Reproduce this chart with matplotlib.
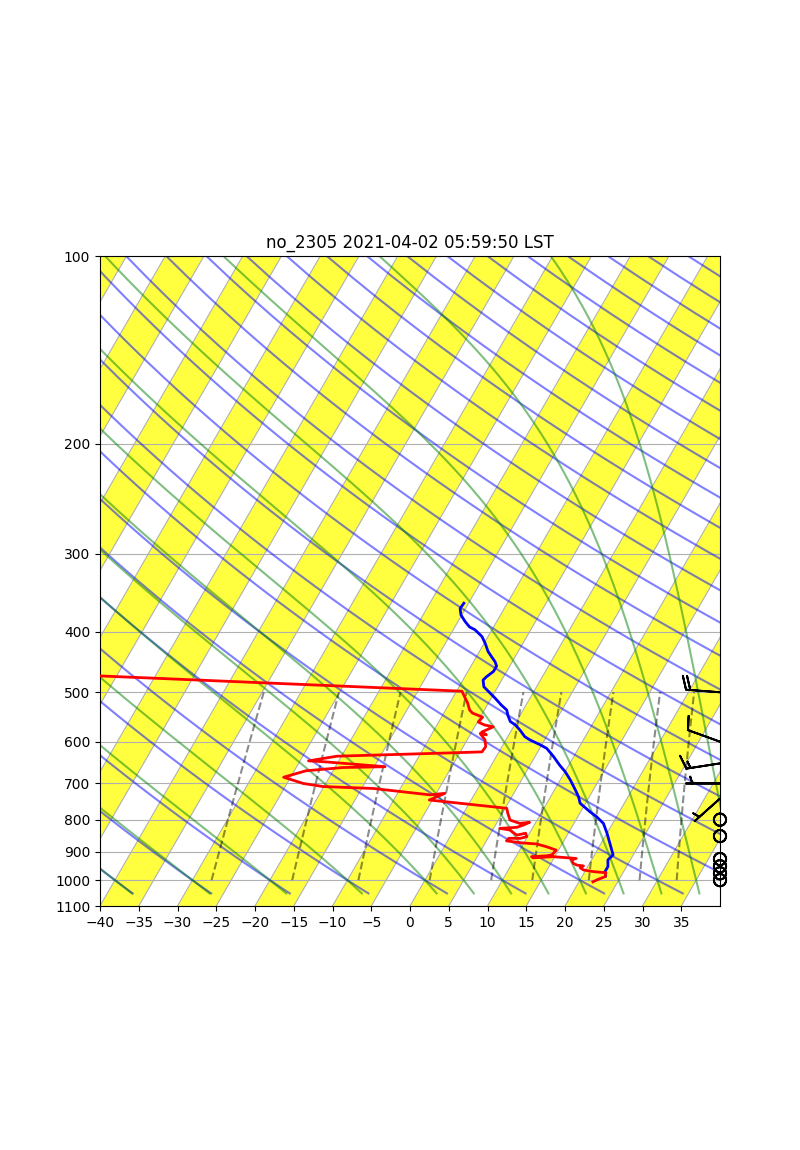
import numpy as np
import matplotlib
matplotlib.use("Agg")
import matplotlib.pyplot as plt
from matplotlib import transforms
from matplotlib.ticker import MultipleLocator, ScalarFormatter, NullLocator

# blue trace (hPa, degC), bottom to top
blue_p = [985, 969, 951, 928, 911, 884, 841, 811, 791, 777, 753, 735, 717, 691, 670,
          654, 634, 615, 607, 596, 589, 575, 564, 557, 544, 534, 524, 511, 499, 490,
          478, 472, 463, 454, 447, 438, 430, 417, 407, 397, 393, 385, 376, 367, 360]
blue_t = [23.0, 22.6, 22.6, 22.1, 22.4, 21.5, 20.0, 18.8, 17.4, 16.2, 14.3, 13.6, 12.7, 11.3, 10.0,
          8.8, 7.4, 5.9, 4.8, 3.1, 2.2, 1.1, 0.1, -0.8, -1.6, -2.1, -3.2, -4.5, -5.8, -6.8,
          -7.4, -7.2, -6.7, -6.7, -7.2, -8.1, -8.9, -9.9, -10.8, -12.2, -13.1, -14.1, -15.1, -15.7, -15.6]

# red trace (hPa, degC), bottom to top
red_p = [1006, 997, 987, 973, 969, 963, 955, 949, 946, 940, 928, 923, 917, 921, 917,
         914, 911, 895, 884, 875, 871, 865, 857, 857, 852, 841, 847, 831, 826, 823,
         816, 808, 811, 801, 781, 767, 744, 726, 730, 713, 708, 700, 684, 668, 660,
         658, 646, 644, 633, 626, 623, 611, 596, 582, 585, 579, 568, 564, 558, 548,
         540, 534, 520, 509, 498, 455]
red_t = [21.8, 22.3, 23.0, 22.8, 21.1, 19.7, 19.1, 19.4, 18.5, 17.9, 17.4, 17.9, 14.8, 12.3, 12.0,
         13.9, 14.5, 14.7, 13.2, 11.7, 9.5, 7.6, 7.7, 9.2, 9.9, 9.5, 8.5, 7.2, 5.8, 7.9,
         8.6, 9.2, 8.0, 6.5, 5.7, 5.2, -5.4, -3.9, -5.7, -13.5, -20.1, -22.9, -25.9, -23.5, -19.0,
         -13.6, -21.9, -23.9, -20.6, -7.5, -2.2, -2.1, -2.7, -3.8, -2.9, -3.7, -2.6, -3.9, -4.9, -4.7,
         -6.3, -6.9, -7.7, -8.5, -9.3, -86.0]

# wind
wind_p = [500, 600, 650, 700, 740, 800, 850, 925, 950, 975, 1000]
wind_u = [19.9, 9.4, 14.8, 5.0, 3.7, 0, 0, 0, 0, 0, 0]
wind_v = [-1.5, -3.4, 2.3, 0.0, 3.3, 0, 0, 0, 0, 0, 0]

# background line sets
dry_t0 = np.arange(-40, 241, 10)
moist_t0 = [-40, -30, -20, -10, 0, 5, 10, 15, 20, 25, 30, 35, 40]
mix_w = [0.0004, 0.001, 0.002, 0.004, 0.007, 0.01, 0.016, 0.024, 0.032]
band_starts = np.arange(-120, 40, 10)

Rd, Cp, Lv, eps = 287.04749, 1004.6662, 2.50084e6, 0.6219569


def sat_vp(t_k):
    return 6.112 * np.exp(17.67 * (t_k - 273.15) / (t_k - 29.65))


def moist_dtdp(p, t):
    es = sat_vp(t)
    rs = eps * es / (p - es)
    num = (Rd * t + Lv * rs) / p
    den = Cp + (Lv * Lv * rs * eps) / (Rd * t * t)
    return num / den


def integrate_moist(t0_k, ps):
    t = np.array(t0_k, dtype=float)
    out = [t.copy()]
    for p0, p1 in zip(ps[:-1], ps[1:]):
        h = p1 - p0
        k1 = moist_dtdp(p0, t)
        k2 = moist_dtdp(p0 + h / 2, t + h / 2 * k1)
        k3 = moist_dtdp(p0 + h / 2, t + h / 2 * k2)
        k4 = moist_dtdp(p1, t + h * k3)
        t = t + h / 6 * (k1 + 2 * k2 + 2 * k3 + k4)
        out.append(t.copy())
    return np.array(out)


fig = plt.figure(figsize=(8, 11.5), dpi=100)
ax = fig.add_axes([0.125, 244 / 1150, 0.775, 650 / 1150])
ax.set_yscale("log")
ax.set_xlim(-40, 40)
ax.set_ylim(1100, 100)
ax.autoscale(False)

# skew-T transform: isotherms lean 30 deg from vertical on screen
ratio = 650 / 620
skew_angle = np.degrees(np.arctan(np.tan(np.radians(30)) * ratio))
skew = ax.transScale + ax.transLimits + transforms.Affine2D().skew_deg(skew_angle, 0) + ax.transAxes

# yellow isotherm bands
for t in band_starts:
    ax.fill([t, t + 5, t + 5, t], [1100, 1100, 100, 100], color="yellow", alpha=0.75,
            lw=0, transform=skew, zorder=1)

# isotherm grid
for t in np.arange(-90, 41, 5):
    ax.plot([t, t], [1100, 100], color="#b0b0b0", lw=0.8, transform=skew, zorder=1.5)
ax.yaxis.grid(True)

# dry adiabats
p_ad = np.linspace(1050, 100, 120)
for t0 in dry_t0:
    t = (t0 + 273.15) * (p_ad / 1000.0) ** (Rd / Cp) - 273.15
    ax.plot(t, p_ad, color="b", alpha=0.5, lw=1.5, transform=skew, zorder=2)

# moist adiabats
p_up = np.arange(1000, 99.9, -2.5)
p_dn = np.arange(1000, 1050.1, 2.5)
t0k = np.array(moist_t0) + 273.15
up = integrate_moist(t0k, p_up)
dn = integrate_moist(t0k, p_dn)
p_moist = np.concatenate([p_dn[::-1], p_up[1:]])
t_moist = np.concatenate([dn[::-1], up[1:]]) - 273.15
for i in range(len(moist_t0)):
    ax.plot(t_moist[:, i], p_moist, color="g", alpha=0.5, lw=1.5, transform=skew, zorder=2)

# mixing ratio lines
p_mix = np.linspace(1000, 500, 50)
for w in mix_w:
    e = p_mix * w / (0.622 + w)
    val = np.log(e / 6.112)
    td = 243.5 * val / (17.67 - val)
    ax.plot(td, p_mix, color="k", alpha=0.45, lw=1.5, ls="--", transform=skew, zorder=2)

# soundings
ax.plot(blue_t, blue_p, color="b", lw=2, transform=skew, zorder=3)
ax.plot(red_t, red_p, color="r", lw=2, transform=skew, zorder=3)

# wind barbs at right edge
ax.barbs(np.ones(len(wind_p)), wind_p, wind_u, wind_v, lw=1.4,
         sizes=dict(emptybarb=0.18),
         transform=ax.get_yaxis_transform(), clip_on=False, zorder=4)

ax.yaxis.set_major_locator(MultipleLocator(100))
ax.yaxis.set_major_formatter(ScalarFormatter())
ax.yaxis.set_minor_locator(NullLocator())
ax.set_xticks(np.arange(-40, 40, 5))
ax.set_xlim(-40, 40)
ax.set_ylim(1100, 100)

ax.set_title("no_2305 2021-04-02 05:59:50 LST")

fig.savefig("out.png", dpi=100)
